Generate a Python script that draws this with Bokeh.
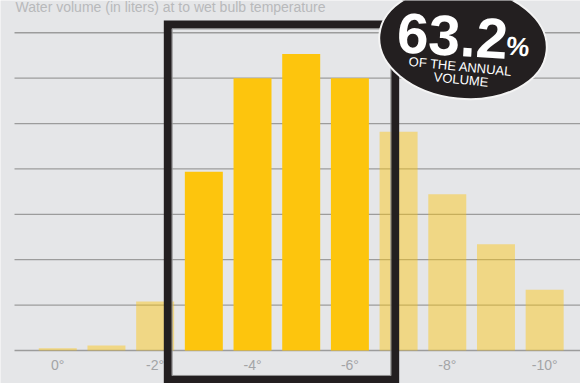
from bokeh.plotting import figure
from bokeh.models import ColumnDataSource, Label, Range1d
from bokeh.core.properties import value
from bokeh.embed import file_html
from bokeh.resources import INLINE

# ---- data ----
temps = ["0°", "-1°", "-2°", "-3°", "-4°", "-5°", "-6°", "-7°", "-8°", "-9°", "-10°"]
volumes = [0.05, 0.11, 1.08, 3.94, 6.0, 6.53, 6.0, 4.82, 3.44, 2.34, 1.34]
highlighted = [False, False, False, True, True, True, True, False, False, False, False]
tick_labels = ["0°", "-2°", "-4°", "-6°", "-8°", "-10°"]
tick_index = [0, 2, 4, 6, 8, 10]
grid_values = [0, 1, 2, 3, 4, 5, 6, 7]
title_text = "Water volume (in liters) at to wet bulb temperature"
share_text = "63.2"

BG = "#e5e6e8"
YELLOW = "#fdc50d"

idx = list(range(len(temps)))

p = figure(width=580, height=383, output_backend="svg", toolbar_location=None,
           x_range=Range1d(-1.176, 10.736), y_range=Range1d(-0.727, 7.711),
           min_border=0, background_fill_color=BG, border_fill_color=BG,
           outline_line_color=None)
p.axis.visible = False
p.grid.visible = False

# gridlines
p.segment(x0=[-0.888] * len(grid_values), x1=[10.8] * len(grid_values),
          y0=grid_values, y1=grid_values, line_color="#9c9c9c", line_width=1.3)

# bars
faded = ColumnDataSource(dict(x=[i for i in idx if not highlighted[i]],
                              top=[volumes[i] for i in idx if not highlighted[i]]))
hi = ColumnDataSource(dict(x=[i for i in idx if highlighted[i]],
                           top=[volumes[i] for i in idx if highlighted[i]]))
p.vbar(x="x", top="top", bottom=0, width=0.78, source=faded,
       fill_color=YELLOW, fill_alpha=0.45, line_color=None)
p.vbar(x="x", top="top", bottom=0, width=0.78, source=hi,
       fill_color=YELLOW, line_color=None)

# tick labels
p.text(x=tick_index, y=[-0.33] * len(tick_index), text=tick_labels,
       text_font=value("Liberation Sans"), text_font_size="14px",
       text_color="#a3a4a6", text_align="center", text_baseline="middle")

# highlight frame
first_hi = min(i for i in idx if highlighted[i])
last_hi = max(i for i in idx if highlighted[i])
p.quad(left=[first_hi - 0.74], right=[last_hi + 0.93], top=[7.18], bottom=[-0.645],
       fill_color=None, line_color="#231f20", line_width=8, line_join="miter")
p.quad(left=[first_hi - 0.74 + 0.09], right=[last_hi + 0.93 - 0.09],
       top=[7.18 - 0.095], bottom=[-0.645 + 0.095],
       fill_color=None, line_color="#8f8f8f", line_width=1)

# badge
p.ellipse(x=[8.323], y=[6.78], width=[168], height=[112],
          width_units="screen", height_units="screen", angle=-0.1,
          fill_color="#231f20", line_color="#f4f4f4", line_width=2)
p.text(x=[8.107], y=[6.94], text=[share_text], angle=-0.06,
       text_font=value("Liberation Sans"), text_font_style="bold",
       text_font_size="57px", text_color="white",
       text_align="center", text_baseline="middle")
p.text(x=[9.45], y=[6.70], text=["%"], angle=-0.1,
       text_font=value("Liberation Sans"), text_font_style="bold",
       text_font_size="26px", text_color="white",
       text_align="center", text_baseline="middle")
p.text(x=[8.272, 8.282], y=[6.257, 5.97], text=["OF THE ANNUAL", "VOLUME"], angle=-0.1,
       text_font=value("Liberation Sans"), text_font_size="13px", text_color="white",
       text_align="center", text_baseline="middle")

# title
p.add_layout(Label(x=15, y=377, x_units="screen", y_units="screen", text=title_text,
                   text_font="Liberation Sans", text_font_size="14px",
                   text_color="#b8b9bb", text_baseline="alphabetic"))

open("out.html", "w").write(file_html(p, INLINE))
